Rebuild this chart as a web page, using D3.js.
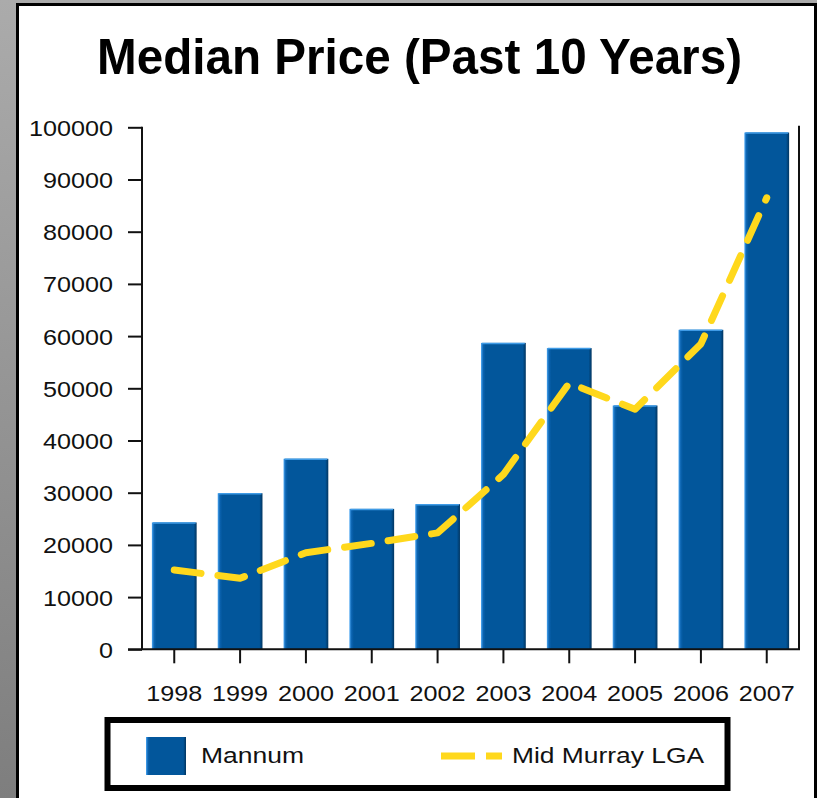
<!DOCTYPE html>
<html>
<head>
<meta charset="utf-8">
<script src="https://cdn.jsdelivr.net/npm/d3@7"></script>
<style>
  html, body { margin: 0; padding: 0; }
  body { width: 817px; height: 798px; overflow: hidden; }
  svg { display: block; font-family: "Liberation Sans", Arial, sans-serif; }
</style>
</head>
<body>
<svg id="chart" width="817" height="798"></svg>
<script>
// data
const years = ["1998", "1999", "2000", "2001", "2002", "2003", "2004", "2005", "2006", "2007"]
const mannum = [24300, 29900, 36500, 26900, 27800, 58700, 57700, 46700, 61200, 99000]
const midMurray = [15200, 13600, 18500, 20300, 22300, 33500, 51000, 46000, 58500, 86500]
const yTicks = [0, 10000, 20000, 30000, 40000, 50000, 60000, 70000, 80000, 90000, 100000]

const titleText = "Median Price (Past 10 Years)"
const barName = "Mannum"
const lineName = "Mid Murray LGA"

const plot = { left: 142, right: 799, top: 127.3, bottom: 649.3 }
const digitWidth = 14

const svg = d3.select("#chart")
const defs = svg.append("defs")

// grey backdrop behind the white panel
const bg = defs.append("linearGradient").attr("id", "bg")
    .attr("x1", 0).attr("y1", 0).attr("x2", 0).attr("y2", 1)
bg.append("stop").attr("offset", "0%").attr("stop-color", "#ababab")
bg.append("stop").attr("offset", "100%").attr("stop-color", "#7e7e7e")

// bars have a light left edge and a dark right edge
const barGrad = defs.append("linearGradient").attr("id", "barGrad")
    .attr("x1", 0).attr("y1", 0).attr("x2", 1).attr("y2", 0)
barGrad.append("stop").attr("offset", "0%").attr("stop-color", "#4ba6f2")
barGrad.append("stop").attr("offset", "5%").attr("stop-color", "#0b63b0")
barGrad.append("stop").attr("offset", "10%").attr("stop-color", "#02569b")
barGrad.append("stop").attr("offset", "93%").attr("stop-color", "#02569b")
barGrad.append("stop").attr("offset", "100%").attr("stop-color", "#013560")

svg.append("rect").attr("width", 817).attr("height", 798).attr("fill", "url(#bg)")
svg.append("rect")
    .attr("x", 17.5).attr("y", 4.5)
    .attr("width", 798).attr("height", 820)
    .attr("fill", "#fff")
    .attr("stroke", "#000")
    .attr("stroke-width", 3)

svg.append("text")
    .attr("x", 97).attr("y", 73.5)
    .attr("textLength", 645)
    .attr("lengthAdjust", "spacingAndGlyphs")
    .attr("font-size", 50)
    .attr("font-weight", "bold")
    .attr("fill", "#000")
    .text(titleText)

let x = d3.scaleBand()
    .domain(years)
    .range([plot.left, plot.right])
    .paddingInner(0.32)
    .paddingOuter(0.15)

let y = d3.scaleLinear()
    .domain([0, 100000])
    .range([plot.bottom, plot.top])

// bars
svg.append("g")
    .selectAll("rect")
    .data(years)
    .enter()
    .append("rect")
    .attr("x", d => x(d))
    .attr("width", x.bandwidth())
    .attr("y", (d, i) => y(mannum[i]))
    .attr("height", (d, i) => y(0) - y(mannum[i]))
    .attr("fill", "url(#barGrad)")

// top edge highlight on each bar
svg.append("g")
    .selectAll("line")
    .data(years)
    .enter()
    .append("line")
    .attr("x1", d => x(d) + 1)
    .attr("x2", d => x(d) + x.bandwidth() - 1)
    .attr("y1", (d, i) => y(mannum[i]) + 0.5)
    .attr("y2", (d, i) => y(mannum[i]) + 0.5)
    .attr("stroke", "#3f9be6")
    .attr("stroke-width", 1.5)

// dashed LGA line
const lineGen = d3.line()
    .x((d, i) => x(years[i]) + x.bandwidth() / 2)
    .y(d => y(d))

svg.append("path")
    .datum(midMurray)
    .attr("d", lineGen)
    .attr("fill", "none")
    .attr("stroke", "#ffd81c")
    .attr("stroke-width", 7)
    .attr("stroke-linecap", "round")
    .attr("stroke-linejoin", "round")
    .attr("stroke-dasharray", "27,17")

// axes
const yAxis = d3.axisLeft(y).tickValues(yTicks).tickSize(14).tickPadding(15).tickFormat(d3.format("d"))
const xAxis = d3.axisBottom(x).tickSize(14).tickPadding(22)

const gy = svg.append("g")
    .attr("transform", `translate(${plot.left}, 0)`)
    .call(yAxis)
const gx = svg.append("g")
    .attr("transform", `translate(0, ${plot.bottom})`)
    .call(xAxis)

for (const g of [gx, gy]) {
    g.select(".domain").remove()
    g.selectAll(".tick line").attr("stroke", "#111").attr("stroke-width", 2)
    g.selectAll(".tick text")
        .attr("font-size", 22)
        .attr("font-family", "'Liberation Sans', Arial, sans-serif")
        .attr("fill", "#111")
        .attr("lengthAdjust", "spacingAndGlyphs")
        .attr("textLength", function () { return this.textContent.length * digitWidth })
}
gy.selectAll(".tick text").attr("dy", "0.36em")

// frame: left, bottom and right lines (no top)
svg.append("path")
    .attr("d", d3.line()([[plot.left, plot.top - 0.5], [plot.left, plot.bottom], [plot.right, plot.bottom], [plot.right, plot.top - 1.5]]))
    .attr("fill", "none")
    .attr("stroke", "#111")
    .attr("stroke-width", 2)
svg.append("line")
    .attr("x1", plot.left - 14).attr("x2", plot.left)
    .attr("y1", plot.bottom).attr("y2", plot.bottom)
    .attr("stroke", "#111").attr("stroke-width", 2)

// legend
const legend = svg.append("g")
legend.append("rect")
    .attr("x", 107.5).attr("y", 720)
    .attr("width", 620).attr("height", 68)
    .attr("fill", "#fff")
    .attr("stroke", "#000")
    .attr("stroke-width", 6)
legend.append("rect")
    .attr("x", 146).attr("y", 737)
    .attr("width", 40).attr("height", 38)
    .attr("fill", "url(#barGrad)")
legend.append("text")
    .attr("x", 201).attr("y", 763)
    .attr("font-size", 22)
    .attr("fill", "#111")
    .attr("textLength", 103)
    .attr("lengthAdjust", "spacingAndGlyphs")
    .text(barName)
legend.append("line")
    .attr("x1", 441).attr("x2", 502)
    .attr("y1", 756).attr("y2", 756)
    .attr("stroke", "#ffd81c")
    .attr("stroke-width", 7)
    .attr("stroke-dasharray", "34,11")
legend.append("text")
    .attr("x", 512).attr("y", 763)
    .attr("font-size", 22)
    .attr("fill", "#111")
    .attr("textLength", 192)
    .attr("lengthAdjust", "spacingAndGlyphs")
    .text(lineName)
</script>
</body>
</html>
